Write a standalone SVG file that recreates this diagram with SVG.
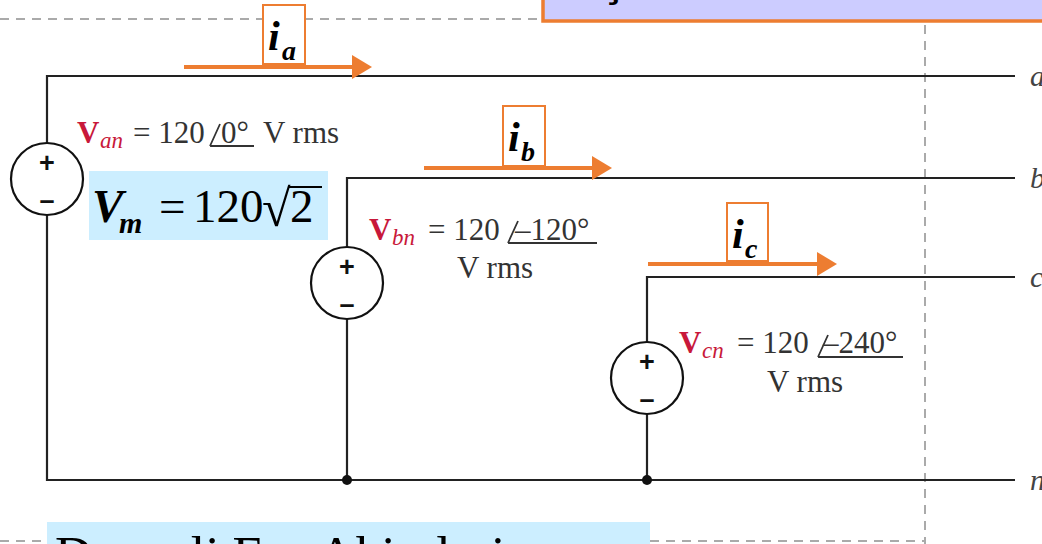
<svg xmlns="http://www.w3.org/2000/svg" width="1042" height="544" viewBox="0 0 1042 544">
<style>
.wire{stroke:#222;stroke-width:2.2;fill:none}
.dash{stroke:#aaa;stroke-width:2;stroke-dasharray:9,7;fill:none}
.src{stroke:#111;stroke-width:2.2;fill:#fff}
.pm{font-family:"Liberation Sans",Arial,sans-serif;font-weight:bold;font-size:27px;fill:#111;text-anchor:middle}
.cur{stroke:#ed7d31;stroke-width:4;fill:none}
.lbox{stroke:#ed7d31;stroke-width:2;fill:#fff}
.ii{font-family:"Liberation Serif","Times New Roman",serif;font-style:italic;font-weight:bold;fill:#000}
.t{font-family:"Liberation Serif","Times New Roman",serif;font-size:31px;fill:#333}
.vr{font-family:"Liberation Serif","Times New Roman",serif;font-weight:bold;font-size:31px;fill:#c8183a}
.vs{font-family:"Liberation Serif","Times New Roman",serif;font-style:italic;font-size:23px;fill:#c8183a}
.ang{stroke:#333;stroke-width:1.8;fill:none}
.term{font-family:"Liberation Serif","Times New Roman",serif;font-style:italic;font-size:30px;fill:#444}
.big{font-family:"Liberation Serif","Times New Roman",serif;font-size:47px;fill:#000}
</style>
<defs>
<marker id="ah" markerWidth="6" markerHeight="6" refX="4" refY="3" orient="auto" markerUnits="strokeWidth">
<path d="M0,0 L5,3 L0,6 z" fill="#ed7d31"/>
</marker>
</defs>
<g id="frame">
<path class="dash" d="M0,19 H540"/>
<path class="dash" d="M925,25 V544"/>
<path class="dash" d="M0,541 H47 M650,541 H925"/>
</g>
<g id="title-box">
<rect x="543" y="-10" width="510" height="31" fill="#ccccff" stroke="#ed7d31" stroke-width="3.5"/>
<text x="601" y="-4" font-family="Liberation Sans,Arial,sans-serif" font-weight="bold" font-size="44" fill="#000">ş</text>
</g>
<g id="connectors">
<path class="wire" d="M1015,76 H47 V480 H1015"/>
<path class="wire" d="M1015,178 H347 V480"/>
<path class="wire" d="M1015,277 H647 V480"/>
<circle cx="347" cy="480" r="5" fill="#111"/>
<circle cx="647" cy="480" r="5" fill="#111"/>
<path class="cur" d="M184,67 H368" marker-end="url(#ah)"/>
<path class="cur" d="M424,168 H608" marker-end="url(#ah)"/>
<path class="cur" d="M648,264 H833" marker-end="url(#ah)"/>
</g>
<g id="terminals">
<text class="term" x="1030" y="86">a</text>
<text class="term" x="1030" y="188">b</text>
<text class="term" x="1030" y="287">c</text>
<text class="term" x="1030" y="490">n</text>
</g>
<g id="source-a">
<circle class="src" cx="47" cy="179" r="36"/>
<text class="pm" x="47" y="172">+</text>
<text class="pm" x="47" y="209">–</text>
</g>
<g id="source-b">
<circle class="src" cx="347" cy="283" r="36"/>
<text class="pm" x="347" y="276">+</text>
<text class="pm" x="347" y="313">–</text>
</g>
<g id="source-c">
<circle class="src" cx="647" cy="378" r="36"/>
<text class="pm" x="647" y="371">+</text>
<text class="pm" x="647" y="408">–</text>
</g>
<g id="label-ia">
<rect class="lbox" x="263" y="5" width="42" height="59"/>
<text class="ii" x="268" y="50" font-size="42">i</text>
<text class="ii" x="282" y="60" font-size="28">a</text>
</g>
<g id="label-ib">
<rect class="lbox" x="503" y="106" width="42" height="60"/>
<text class="ii" x="508" y="151" font-size="42">i</text>
<text class="ii" x="521" y="161" font-size="28">b</text>
</g>
<g id="label-ic">
<rect class="lbox" x="727" y="203" width="41" height="58"/>
<text class="ii" x="732" y="248" font-size="42">i</text>
<text class="ii" x="745" y="258" font-size="28">c</text>
</g>
<g id="van">
<text class="vr" x="77" y="143">V</text>
<text class="vs" x="100" y="148">an</text>
<text class="t" x="133" y="143">= 120</text>
<path class="ang" d="M210,146 L220,124 M210,146 H254"/>
<text class="t" x="221" y="143">0°</text>
<text class="t" x="263" y="143">V rms</text>
</g>
<g id="vm">
<rect x="89" y="171" width="239" height="69" fill="#cceeff"/>
<text class="ii" x="92" y="222" font-size="47">V</text>
<text class="ii" x="119" y="233" font-size="30">m</text>
<text class="big" x="159" y="222">=</text>
<text class="big" x="193" y="222">120</text>
<text x="262" y="226" font-family="Liberation Serif,Times New Roman,serif" font-size="52" fill="#000">√</text>
<path d="M288,187 H322" stroke="#000" stroke-width="2"/>
<text class="big" x="290" y="222">2</text>
</g>
<g id="vbn">
<text class="vr" x="369" y="240">V</text>
<text class="vs" x="392" y="245">bn</text>
<text class="t" x="428" y="240">= 120</text>
<path class="ang" d="M508,243 L518,221 M508,243 H597"/>
<text class="t" x="515" y="240">–120°</text>
<text class="t" x="457" y="278">V rms</text>
</g>
<g id="vcn">
<text class="vr" x="679" y="353">V</text>
<text class="vs" x="702" y="358">cn</text>
<text class="t" x="737" y="353">= 120</text>
<path class="ang" d="M818,357 L828,335 M818,357 H903"/>
<text class="t" x="823" y="353">–240°</text>
<text class="t" x="767" y="392">V rms</text>
</g>
<g id="footer">
<rect x="47" y="522" width="603" height="30" fill="#cceeff"/>
<text x="55" y="573" font-family="Liberation Serif,Times New Roman,serif" font-size="52" fill="#000">Dengeli Faz Akimlari</text>
</g>
</svg>
